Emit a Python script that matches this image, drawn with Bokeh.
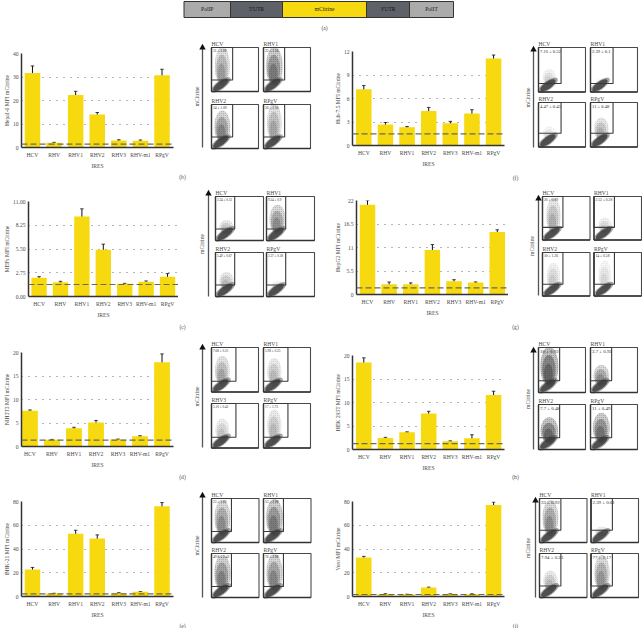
from bokeh.plotting import figure
from bokeh.layouts import column, row
from bokeh.models import (ColumnDataSource, Range1d, FixedTicker, Whisker, TeeHead, Span)
from bokeh.core.properties import value
from bokeh.embed import file_html
from bokeh.resources import INLINE
import math

FONT = "Liberation Serif"
YEL = "#F7D90F"
TXT = "#4a4a4a"

categories = ["HCV", "RHV", "RHV1", "RHV2", "RHV3", "RHV-m1", "RPgV"]

b_vals = [31.7, 2.0, 22.3, 14.0, 3.0, 2.9, 30.7]
b_errs = [3.0, 0.2, 1.6, 0.9, 0.3, 0.3, 2.6]
c_vals = [2.17, 1.66, 9.25, 5.42, 1.47, 1.70, 2.28]
c_errs = [0.13, 0.10, 0.90, 0.64, 0.05, 0.10, 0.37]
d_vals = [7.63, 1.41, 3.89, 5.09, 1.48, 2.19, 17.9]
d_errs = [0.15, 0.10, 0.20, 0.45, 0.10, 0.10, 1.8]
e_vals = [22.7, 2.5, 52.8, 48.9, 2.8, 3.9, 76.1]
e_errs = [1.8, 0.2, 3.0, 3.0, 0.4, 0.3, 3.0]
f_vals = [7.17, 2.67, 2.33, 4.41, 2.84, 4.07, 11.1]
f_errs = [0.48, 0.27, 0.10, 0.45, 0.24, 0.50, 0.45]
g_vals = [20.98, 2.42, 2.42, 10.4, 3.12, 2.80, 14.6]
g_errs = [1.0, 0.5, 0.3, 1.29, 0.35, 0.15, 0.55]
h_vals = [18.5, 2.46, 3.66, 7.68, 1.76, 2.39, 11.6]
h_errs = [1.0, 0.12, 0.10, 0.45, 0.08, 0.75, 0.8]
i_vals = [32.8, 2.0, 1.7, 7.6, 2.0, 2.0, 77.0]
i_errs = [1.0, 0.3, 0.2, 0.3, 0.2, 0.2, 2.5]

cutoffs = dict(b=1.4, c=1.39, d=1.34, e=2.25, f=1.48, g=1.56, h=1.27, i=1.7)
ticks = dict(
    b=[0, 10, 20, 30, 40], c=[0, 2.75, 5.5, 8.25, 11], d=[0, 5, 10, 15, 20], e=[0, 20, 40, 60, 80],
    f=[0, 3, 6, 9, 12], g=[0, 5.5, 11, 16.5, 22], h=[0, 5, 10, 15, 20], i=[0, 20, 40, 60, 80])
tick_labels = dict(
    b=["0", "10", "20", "30", "40"], c=["0.00", "2.75", "5.50", "8.25", "11.00"],
    d=["0", "5", "10", "15", "20"], e=["0", "20", "40", "60", "80"],
    f=["0", "3", "6", "9", "12"], g=["0", "5.5", "11", "16.5", "22"],
    h=["0", "5", "10", "15", "20"], i=["0", "20", "40", "60", "80"])
ylabels = dict(
    b="HepaI-6 MFI mCitrine", c="MEFs MFI mCitrine", d="NIH3T3 MFI mCitrine", e="BHK-21 MFI mCitrine",
    f="Huh-7.5 MFI mCitrine", g="HepG2 MFI mCitrine", h="HEK 293T MFI mCitrine", i="Vero MFI mCitrine")
xlabels = dict(b="IRES", c="IRES", d="IRES", e="IRES", f="IRES", g="IRES", h="IRES", i="IRES")
values_all = dict(b=b_vals, c=c_vals, d=d_vals, e=e_vals, f=f_vals, g=g_vals, h=h_vals, i=i_vals)
errors_all = dict(b=b_errs, c=c_errs, d=d_errs, e=e_errs, f=f_errs, g=g_errs, h=h_errs, i=i_errs)

flow_names = dict(
    b=["HCV", "RHV1", "RHV2", "RPgV"], c=["HCV", "RHV1", "RHV2", "RPgV"], d=["HCV", "RHV1", "RHV3", "RPgV"],
    e=["HCV", "RHV1", "RHV2", "RPgV"], f=["HCV", "RHV1", "RHV2", "RPgV"], g=["HCV", "RHV1", "RHV2", "RPgV"],
    h=["HCV", "RHV1", "RHV2", "RPgV"], i=["HCV", "RHV1", "RHV2", "RPgV"])
flow_gates = dict(
    b=["31 ± 2.09", "22 ± 1.56", "14 ± 1.09", "30 ± 2.50"],
    c=["2.24 ± 0.13", "9.24 ± 0.9", "5.49 ± 0.67", "2.37 ± 0.38"],
    d=["7.68 ± 0.21", "5.98 ± 0.25", "5.10 ± 0.41", "17 ± 1.73"],
    e=["23 ± 1.83", "53 ± 2.98", "49.8 ± 2.43", "76 ± 2.98"],
    f=["7.16 ± 0.52", "2.39 ± 0.1", "4.47 ± 0.45", "11 ± 0.48"],
    g=["20 ± 0.89", "2.52 ± 0.28", "10 ± 1.26", "14 ± 0.58"],
    h=["18 ± 0.92", "3.7 ± 0.92", "7.7 ± 0.48", "11 ± 0.49"],
    i=["33 ± 0.92", "2.39 ± 0.01", "7.94 ± 0.23", "77 ± 2.17"])
# how high the mCitrine-positive cloud reaches (fraction of panel) and how dense it looks
flow_reach = dict(
    b=[1.0, 1.0, .85, 1.0], c=[.45, .8, .55, .35], d=[.8, .75, .65, .85], e=[.95, .97, .95, .97],
    f=[.5, .3, .45, .65], g=[.95, .5, .75, .8], h=[1.0, .6, .7, .8], i=[.95, .35, .6, .95])
flow_density = dict(
    b=[.45, .7, .6, .4], c=[.3, .55, .3, .12], d=[.4, .3, .25, .3], e=[.55, .7, .65, .6],
    f=[.18, .05, .14, .35], g=[.35, .2, .2, .15], h=[.9, .55, .85, .75], i=[.55, .2, .3, .5])

# ---- page geometry (reference pixels) ----
ROWS = [(38, 188), (188, 338), (338, 488), (488, 628)]
COLS = [(0, 178), (178, 324), (324, 508), (508, 642)]
BARS = dict(  # axis x, first bar centre, spacing, axis end, top y, zero y, caption y, caption x
    b=(20.7, 31.7, 21.63, 173, 52.7, 147, 176, 182),
    c=(27.7, 38.3, 21.45, 178, 201, 296, 326, 182),
    d=(20.7, 29.2, 22.05, 173, 352, 446, 476, 182),
    e=(20.7, 31.7, 21.63, 173, 501, 596, 626, 182),
    f=(352, 363.3, 21.63, 504, 51, 145, 177, 515),
    g=(356, 367, 21.63, 508, 200, 294, 326, 515),
    h=(352, 363.3, 21.63, 504, 355, 449, 476, 515),
    i=(352, 363.3, 21.63, 504, 501, 596, 626, 515))
CAPTION = dict(b="(b)", c="(c)", d="(d)", e="(e)", f="(f)", g="(g)", h="(h)", i="(i)")
FLOW = dict(  # arrow x, arrow top, arrow bottom, ylabel x, L col x0, R col x0, w, T y0, B y0, h, gate w, T gate h, B gate h, label px
    b=(202, 45, 147, 196, 211, 263, 47, 47, 104, 44, .45, .74, .74, 3.6),
    c=(208, 191, 296, 201, 215, 266, 48, 196, 252, 44, .40, .74, .74, 3.3),
    d=(202, 345, 447, 196, 211, 263, 47, 347, 403, 44.5, .52, .76, .76, 3.4),
    e=(202, 493, 597, 196, 211, 263, 47.5, 498, 553, 44, .42, .75, .75, 3.6),
    f=(533, 47, 147, 527, 538, 590, 47, 47, 102, 44.5, .48, .81, .69, 4.6),
    g=(538, 196, 295, 531, 542, 593.5, 47.5, 196, 252, 43.5, .43, .71, .73, 3.7),
    h=(533, 348, 449, 527, 538, 590, 47, 347, 404, 45, .45, .74, .74, 4.9),
    i=(535, 498, 597, 527, 539, 590.5, 47.5, 498, 553, 44, .45, .72, .74, 4.9))


def bar_fig(key, col, rw):
    ax, c0, sp, end, top, zero, cap_y, cap_x = BARS[key]
    x0, x1 = col
    y0, y1 = rw
    vals = values_all[key]
    errs = errors_all[key]
    tk = ticks[key]
    idx = list(range(len(categories)))
    p = figure(width=x1 - x0, height=y1 - y0, output_backend="svg", toolbar_location=None,
               x_range=Range1d((ax - c0) / sp, (end - c0) / sp), y_range=Range1d(0, tk[-1]),
               min_border_left=int(round(ax - x0)), min_border_right=int(round(x1 - end)),
               min_border_top=int(round(top - y0)), min_border_bottom=int(round(y1 - zero)),
               outline_line_color=None, background_fill_color="white", border_fill_color=None,
               frame_align=False)
    p.xgrid.visible = False
    p.ygrid.ticker = FixedTicker(ticks=tk)
    p.ygrid.grid_line_color = "#6a6a6a"
    p.ygrid.grid_line_dash = "1 6"
    p.ygrid.grid_line_width = 1
    src = ColumnDataSource(dict(x=idx, top=vals,
                                lo=[v - e for v, e in zip(vals, errs)], hi=[v + e for v, e in zip(vals, errs)]))
    p.vbar(x="x", top="top", bottom=0, width=0.717, source=src, fill_color=YEL, line_color=None)
    p.add_layout(Span(location=cutoffs[key], dimension="width", line_color="#6a6a5a", line_dash="6 3", line_width=1.2))
    head = dict(size=3.5, line_width=0.8, line_color="#111111")
    p.add_layout(Whisker(source=src, base="x", upper="hi", lower="lo", line_color="#111111", line_width=1,
                         upper_head=TeeHead(**head), lower_head=TeeHead(**head)))
    xa, ya = p.xaxis[0], p.yaxis[0]
    xa.ticker = FixedTicker(ticks=idx)
    xa.major_label_overrides = {i: c for i, c in zip(idx, categories)}
    ya.ticker = FixedTicker(ticks=tk)
    ya.major_label_overrides = {t: l for t, l in zip(tk, tick_labels[key])}
    xa.axis_label = xlabels[key]
    ya.axis_label = ylabels[key]
    for a in (xa, ya):
        a.axis_line_color = "#333333"
        a.axis_line_width = 1.5
        a.major_tick_line_color = None
        a.minor_tick_line_color = None
        a.major_tick_in = 0
        a.major_tick_out = 0
        a.minor_tick_in = 0
        a.minor_tick_out = 0
        a.major_label_text_font = FONT
        a.major_label_text_font_size = "5.6px"
        a.major_label_text_color = TXT
        a.axis_label_text_font = FONT
        a.axis_label_text_font_size = "5.6px"
        a.axis_label_text_font_style = "normal"
        a.axis_label_text_color = TXT
    xa.major_label_standoff = 4
    xa.axis_label_standoff = 2
    ya.major_label_standoff = 3
    ya.axis_label_standoff = 0
    return p


def flow_fig(key, col, rw):
    x0, x1 = col
    y0, y1 = rw
    ax, a_top, a_bot, yl_x, lx, rx, w, ty, by, h, gw, tg, bg, lab = FLOW[key]
    p = figure(width=x1 - x0, height=y1 - y0, output_backend="svg", toolbar_location=None,
               x_range=Range1d(x0, x1), y_range=Range1d(y1, y0), x_axis_type=None, y_axis_type=None,
               min_border=0, outline_line_color=None, border_fill_color=None, frame_align=False)
    p.grid.visible = False
    _, _, _, _, _, _, cap_y, cap_x = BARS[key]
    p.text([cap_x], [min(cap_y, y1 - 3)], text=[CAPTION[key]], text_font=value(FONT), text_font_size="5.6px",
           text_color=TXT, text_align="center", text_baseline="middle")
    p.segment(ax, a_bot, ax, a_top + 3, line_color="#555555", line_width=1.3)
    p.scatter([ax], [a_top + 2], marker="triangle", size=6.5, fill_color="#111111", line_color=None)
    p.text([yl_x], [(a_top + a_bot) / 2 + 0], text=["mCitrine"], angle=math.pi / 2, text_font=value(FONT),
           text_font_size="5.6px", text_color=TXT, text_align="center", text_baseline="middle")
    pos = [(lx, ty, tg), (rx, ty, tg), (lx, by, bg), (rx, by, bg)]
    for k, (px, py, g) in enumerate(pos):
        reach = flow_reach[key][k]
        dens = flow_density[key][k]
        bot = py + h
        # mCitrine-positive cloud
        cy = bot - h * (0.15 + reach) / 2
        ch = h * (reach - 0.12)
        cw = w * (.26 + .14 * dens)
        p.ellipse([px + w * .23], [cy], width=cw, height=ch, fill_color="#3c3c3c", fill_alpha=dens * .35,
                  line_color=None, hatch_pattern="dot", hatch_color="#555555",
                  hatch_alpha=min(.4, dens * .6), hatch_scale=2)
        p.ellipse([px + w * .22], [cy + ch * .08], width=cw * .75, height=ch * .75,
                  fill_color="#3c3c3c", fill_alpha=dens * .5, line_color=None)
        p.ellipse([px + w * .21], [cy + ch * .18], width=cw * .5, height=ch * .5,
                  fill_color="#3c3c3c", fill_alpha=dens * .5, line_color=None)
        # dense negative population at lower left
        for f, al in [(1.0, .45), (.78, .8)]:
            p.ellipse([px + w * .2], [bot - h * .15], width=w * .5 * f, height=h * .2 * f, angle=0.62,
                      fill_color="#3a3a3a", fill_alpha=al, line_color=None)
        p.quad(left=[px], right=[px + w], top=[py], bottom=[bot], fill_color=None,
               line_color="#4a4a4a", line_width=1.1)
        p.segment([px, px], [bot, bot], [px + w, px], [bot, py], line_color="#333333", line_width=1.3)
        p.quad(left=[px], right=[px + w * gw], top=[py], bottom=[py + h * g], fill_color=None,
               line_color="#3a3a3a", line_width=1.1)
        p.text([px], [py - 0.5], text=[flow_names[key][k]], text_font=value(FONT), text_font_size="5.6px",
               text_color=TXT, text_align="left", text_baseline="bottom")
        p.text([px + 1.5], [py + 1.5], text=[flow_gates[key][k]], text_font=value(FONT),
               text_font_size=f"{lab}px", text_color="#2e2e2e", text_align="left", text_baseline="top")
    return p


def banner():
    edges = [183.5, 230, 282, 366, 409, 453]
    names = ["PolIP", "5′UTR", "mCitrine", "3′UTR", "PolIT"]
    fills = ["#ABABAB", "#5E6168", YEL, "#5E6168", "#ABABAB"]
    text_col = ["#222222", "#111111", "#222222", "#111111", "#222222"]
    p = figure(width=642, height=38, output_backend="svg", toolbar_location=None,
               x_range=Range1d(0, 642), y_range=Range1d(38, 0), x_axis_type=None, y_axis_type=None,
               min_border=0, outline_line_color=None, border_fill_color=None, frame_align=False)
    p.grid.visible = False
    p.quad(left=edges[:-1], right=edges[1:], top=[1] * 5, bottom=[17] * 5, fill_color=fills,
           line_color="#333333", line_width=1)
    p.text([(a + b) / 2 for a, b in zip(edges[:-1], edges[1:])], [8.5] * 5, text=names, text_font=value(FONT),
           text_font_size="5.6px", text_color=text_col, text_align="center", text_baseline="middle")
    p.text([324], [27], text=["(a)"], text_font=value(FONT), text_font_size="5.6px", text_color=TXT,
           text_align="center", text_baseline="middle")
    return p


keys = [("b", "f"), ("c", "g"), ("d", "h"), ("e", "i")]
rows = [banner()]
for rw, (l, r) in zip(ROWS, keys):
    rows.append(row(bar_fig(l, COLS[0], rw), flow_fig(l, COLS[1], rw),
                    bar_fig(r, COLS[2], rw), flow_fig(r, COLS[3], rw), spacing=0))
page = column(*rows, spacing=0)
open("out.html", "w").write(file_html(page, INLINE))
